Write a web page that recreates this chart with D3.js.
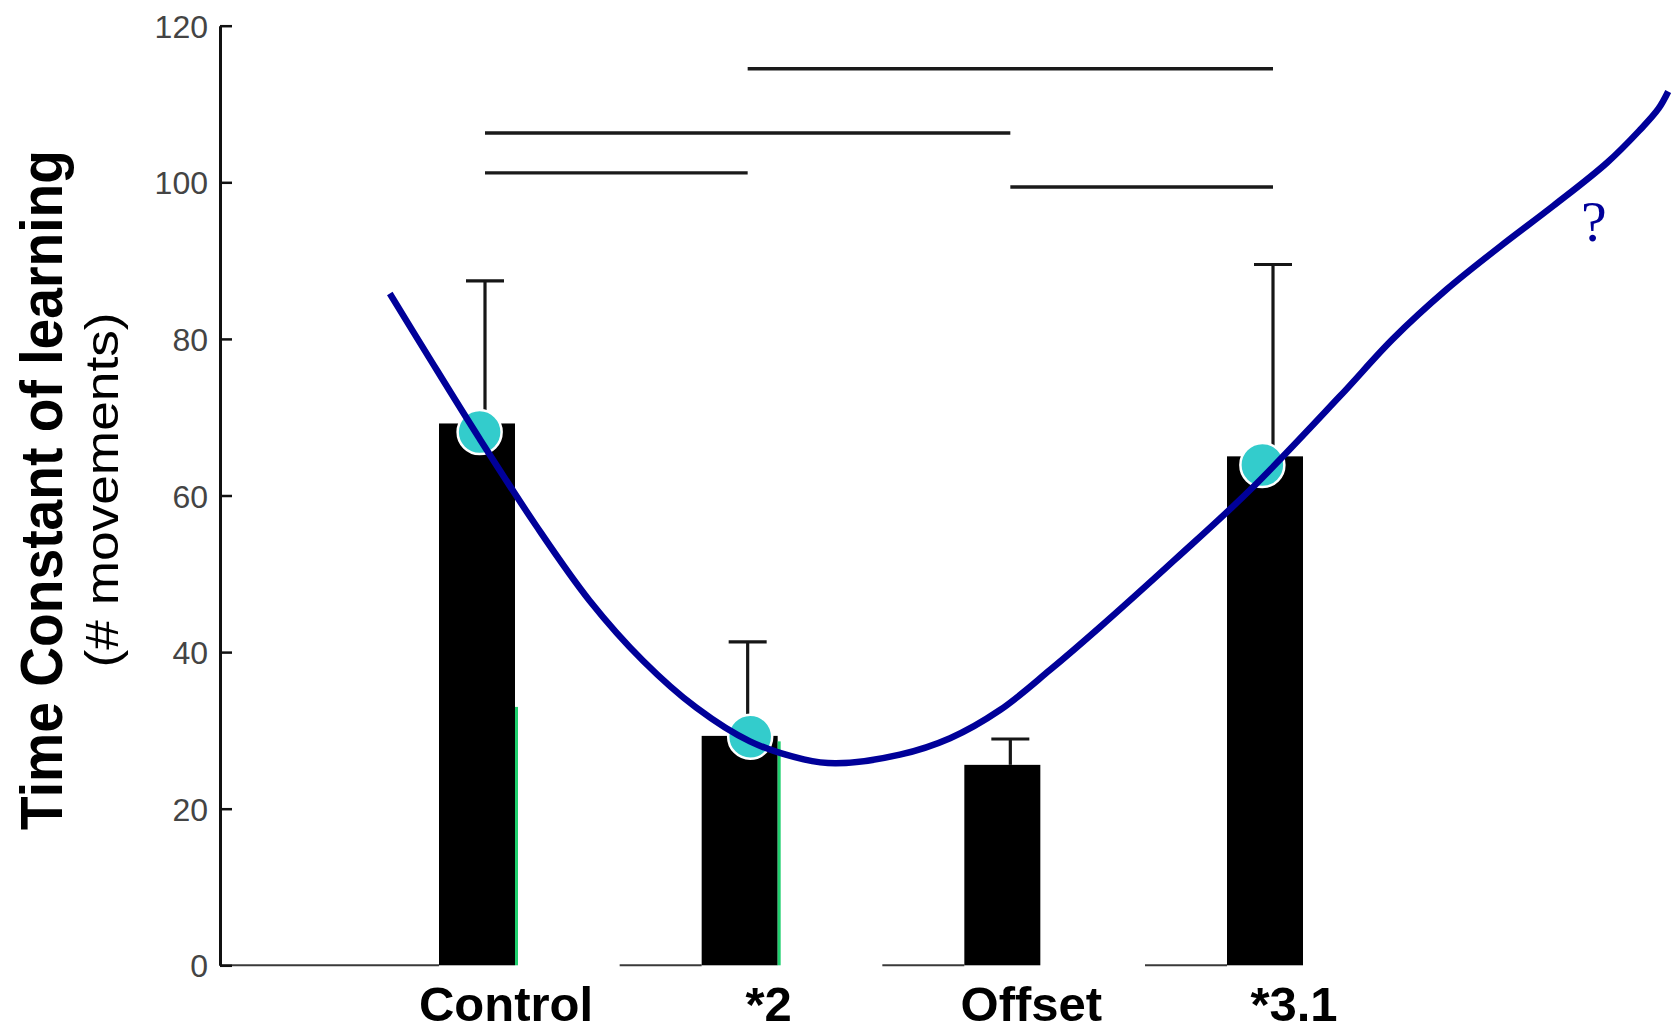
<!DOCTYPE html>
<html>
<head>
<meta charset="utf-8">
<script src="https://cdn.jsdelivr.net/npm/d3@7"></script>
<style>
  html, body { margin: 0; padding: 0; background: #ffffff; }
  svg { display: block; }
</style>
</head>
<body>
<svg id="chart" width="1680" height="1031"></svg>
<script>
// Conditions and measured time constants (number of movements)
const categories = ["Control", "*2", "Offset", "*3.1"];
const meanValues = [69.2, 29.3, 25.6, 65.0];
const errorTops = [87.4, 41.3, 28.9, 89.5];
// green edge strips on the right side of the first two bars
const edgeTops = [33.0, 28.6, null, null];

// model predictions (cyan dots), placed along the condition axis
const modelPositions = [0.01, 1.04, 2.99];
const modelValues = [68.1, 29.2, 63.9];

// hand-drawn fit through the predictions (condition axis position, value)
const fitPositions = [-0.332, -0.184, 0.007, 0.224, 0.428, 0.632, 0.835, 1.039, 1.244, 1.366,
                      1.610, 1.801, 1.991, 2.181, 2.372, 2.657, 2.943, 3.283, 3.487, 3.691,
                      3.895, 4.098, 4.302, 4.425, 4.498, 4.535];
const fitValues = [85.8, 77.7, 67.4, 56.2, 46.6, 38.9, 32.9, 28.6, 26.3, 25.8,
                   26.9, 29.0, 32.6, 37.7, 43.2, 51.8, 60.7, 72.6, 80.0, 86.3,
                   91.8, 97.0, 102.5, 106.6, 109.4, 111.6];

// pairwise comparison bars: [from condition, to condition] and their heights
const comparisonFrom = [1, 0, 0, 2];
const comparisonTo = [3, 2, 1, 3];
const comparisonLevels = [114.5, 106.3, 101.2, 99.4];

const yTicks = [0, 20, 40, 60, 80, 100, 120];

// annotation next to the extrapolated part of the fit
const questionMark = { text: "?", position: 4.252, value: 92.5 };

const svg = d3.select("#chart");

const axisX = 220;
const y = d3.scaleLinear().domain([0, 120]).range([965.3, 25.7]);
const x = d3.scaleLinear().domain([0, 3]).range([477, 1265]);

const barWidth = 76;
const errOffset = 8;     // error bars sit a little right of the bar centre
const capHalf = 19;
const labelOffset = 29;

const bars = categories.map((c, i) => ({
  name: c, value: meanValues[i], err: errorTops[i], edge: edgeTops[i], i
}));

// baseline pieces leading into each bar
svg.append("g")
  .selectAll("line")
  .data(bars)
  .join("line")
  .attr("x1", d => d.i === 0 ? axisX : x(d.i) - barWidth / 2 - 82)
  .attr("x2", d => x(d.i) - barWidth / 2)
  .attr("y1", y(0)).attr("y2", y(0))
  .attr("stroke", "#3a3a3a")
  .attr("stroke-width", 2);

// bars
svg.append("g")
  .selectAll("rect")
  .data(bars)
  .join("rect")
  .attr("x", d => x(d.i) - barWidth / 2)
  .attr("y", d => y(d.value))
  .attr("width", barWidth)
  .attr("height", d => y(0) - y(d.value))
  .attr("fill", "#000000");

// green edge strips
svg.append("g")
  .selectAll("rect")
  .data(bars.filter(d => d.edge !== null))
  .join("rect")
  .attr("x", d => x(d.i) + barWidth / 2)
  .attr("y", d => y(d.edge))
  .attr("width", 3)
  .attr("height", d => y(0) - y(d.edge))
  .attr("fill", "#1fd06e");

// error bars
const eb = svg.append("g").attr("stroke", "#161616").attr("stroke-width", 3.2);
eb.selectAll("line.stem")
  .data(bars)
  .join("line")
  .attr("class", "stem")
  .attr("x1", d => x(d.i) + errOffset).attr("x2", d => x(d.i) + errOffset)
  .attr("y1", d => y(d.value)).attr("y2", d => y(d.err));
eb.selectAll("line.cap")
  .data(bars)
  .join("line")
  .attr("class", "cap")
  .attr("x1", d => x(d.i) + errOffset - capHalf).attr("x2", d => x(d.i) + errOffset + capHalf)
  .attr("y1", d => y(d.err)).attr("y2", d => y(d.err));

// comparison lines
svg.append("g")
  .selectAll("line")
  .data(comparisonLevels.map((v, k) => ({ a: comparisonFrom[k], b: comparisonTo[k], v })))
  .join("line")
  .attr("x1", d => x(d.a) + errOffset)
  .attr("x2", d => x(d.b) + errOffset)
  .attr("y1", d => y(d.v)).attr("y2", d => y(d.v))
  .attr("stroke", "#1a1a1a")
  .attr("stroke-width", 3.4);

// model prediction dots
svg.append("g")
  .selectAll("circle")
  .data(modelValues.map((v, k) => ({ p: modelPositions[k], v })))
  .join("circle")
  .attr("cx", d => x(d.p))
  .attr("cy", d => y(d.v))
  .attr("r", 22)
  .attr("fill", "#33cccc")
  .attr("stroke", "#ffffff")
  .attr("stroke-width", 2.5);

// fitted curve
const fit = fitPositions.map((p, k) => [p, fitValues[k]]);
svg.append("path")
  .datum(fit)
  .attr("d", d3.line()
    .x(d => x(d[0]))
    .y(d => y(d[1]))
    .curve(d3.curveCatmullRom.alpha(0.5)))
  .attr("fill", "none")
  .attr("stroke", "#000099")
  .attr("stroke-width", 6.5);

svg.append("text")
  .attr("x", x(questionMark.position))
  .attr("y", y(questionMark.value))
  .attr("text-anchor", "middle")
  .attr("font-family", "'Liberation Serif', 'DejaVu Serif', serif")
  .attr("font-size", 58)
  .attr("fill", "#000099")
  .text(questionMark.text);

// y axis
const yAxis = d3.axisLeft(y)
  .tickValues(yTicks)
  .tickSizeInner(-12)
  .tickSizeOuter(0)
  .tickPadding(12)
  .tickFormat(d3.format("d"));

const ga = svg.append("g")
  .attr("transform", `translate(${axisX},0)`)
  .call(yAxis);
ga.select(".domain").attr("stroke", "#111").attr("stroke-width", 3);
ga.selectAll(".tick line").attr("stroke", "#111").attr("stroke-width", 2.5);
ga.selectAll(".tick text")
  .attr("font-family", "'Liberation Sans', Arial, Helvetica, sans-serif")
  .attr("font-size", 32)
  .attr("fill", "#444444")
  .attr("dy", "0.36em");

// category labels
svg.append("g")
  .selectAll("text")
  .data(bars)
  .join("text")
  .attr("x", d => x(d.i) + labelOffset)
  .attr("y", 1021)
  .attr("text-anchor", "middle")
  .attr("font-family", "'Liberation Sans', Arial, Helvetica, sans-serif")
  .attr("font-weight", "bold")
  .attr("font-size", 49)
  .attr("fill", "#000")
  .text(d => d.name);

// y axis titles
svg.append("text")
  .attr("transform", "translate(62,490) rotate(-90)")
  .attr("text-anchor", "middle")
  .attr("font-family", "'Liberation Sans Narrow', 'Liberation Sans', Arial, sans-serif")
  .attr("font-weight", "bold")
  .attr("font-size", 60)
  .attr("textLength", 680)
  .attr("lengthAdjust", "spacingAndGlyphs")
  .attr("fill", "#000")
  .text("Time Constant of learning");

svg.append("text")
  .attr("transform", "translate(118,490) rotate(-90)")
  .attr("text-anchor", "middle")
  .attr("font-family", "'Liberation Sans Narrow', 'Liberation Sans', Arial, sans-serif")
  .attr("font-size", 46)
  .attr("textLength", 355)
  .attr("lengthAdjust", "spacingAndGlyphs")
  .attr("fill", "#000")
  .text("(# movements)");
</script>
</body>
</html>
